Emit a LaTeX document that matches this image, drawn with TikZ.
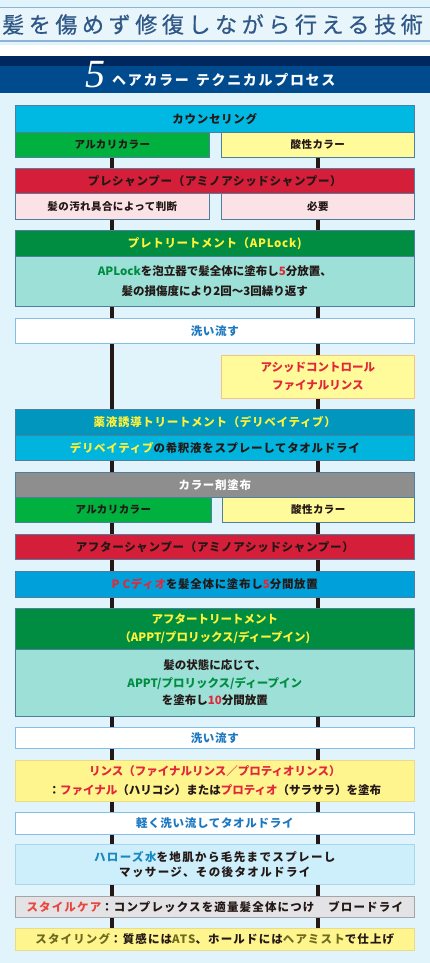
\documentclass[tikz,border=0pt]{standalone}
\usepackage{fontspec}
\setmainfont{Noto Sans CJK JP}
\newfontfamily\titlefont[LetterSpace=21, FakeBold=0.6]{Noto Sans CJK JP}
\newfontfamily\numfont{Liberation Serif}
\usetikzlibrary{backgrounds}

\definecolor{bgblue}{HTML}{E1F4FC}
\definecolor{bandblue}{HTML}{E8F5FB}
\definecolor{titletext}{HTML}{2F5886}
\definecolor{titleline}{HTML}{8DB3D6}
\definecolor{navy}{HTML}{00275E}
\definecolor{barblue}{HTML}{004A8E}
\definecolor{boxline}{HTML}{4F7F9F}
\definecolor{cyanbox}{HTML}{00B9E3}
\definecolor{alkgreen}{HTML}{00B140}
\definecolor{acidyellow}{HTML}{FFFA9A}
\definecolor{shampred}{HTML}{D51F3A}
\definecolor{pinkbox}{HTML}{FBE2E7}
\definecolor{darkgreen}{HTML}{008D41}
\definecolor{mint}{HTML}{9CE0D8}
\definecolor{washline}{HTML}{85BEE6}
\definecolor{washtext}{HTML}{1C78C0}
\definecolor{rinseline}{HTML}{F5C67A}
\definecolor{redtext}{HTML}{E1283A}
\definecolor{derivehead}{HTML}{0096BD}
\definecolor{derivebody}{HTML}{00B4DE}
\definecolor{headyellow}{HTML}{FFF23A}
\definecolor{graybox}{HTML}{8E8E8E}
\definecolor{pcblue}{HTML}{00A0DB}
\definecolor{greentext}{HTML}{008D41}
\definecolor{rinseyellow}{HTML}{FFF58F}
\definecolor{rinseedge}{HTML}{EADB8A}
\definecolor{halosbox}{HTML}{CDEEFB}
\definecolor{halosline}{HTML}{A8D6EC}
\definecolor{halostext}{HTML}{1A88C0}
\definecolor{carebox}{HTML}{E3E3E6}
\definecolor{careline}{HTML}{A5A5A8}
\definecolor{carered}{HTML}{E8473E}
\definecolor{olivetext}{HTML}{6E6A1E}
\definecolor{inkblack}{HTML}{231815}

\tikzset{
  box/.style={draw=boxline, line width=0.6pt, anchor=north west, inner sep=0pt,
    align=center, minimum width=399pt, text=inkblack,
    font=\bfseries\fontsize{11.5}{18.5}\selectfont\addfontfeature{LetterSpace=6}},
  halfbox/.style={box, minimum width=194pt,
    font=\bfseries\fontsize{10.5}{14}\selectfont\addfontfeature{LetterSpace=4}},
  washbox/.style={box, draw=washline, fill=white, text=washtext},
  flowline/.style={line width=4pt, inkblack}
}

\begin{document}
\begin{tikzpicture}[x=1pt, y=-1pt]
  \useasboundingbox (0,0) rectangle (430,963);
  \begin{pgfonlayer}{background}
    \fill[bgblue] (0,0) rectangle (430,963);
  \end{pgfonlayer}
  % title band
  \fill[bandblue] (0,8) rectangle (430,41);
  \draw[titleline, line width=1pt] (0,8) -- (430,8);
  \draw[titleline, line width=2pt] (0,41) -- (430,41);
  \node[text=titletext, anchor=west, inner sep=0pt, font=\titlefont\fontsize{22}{22}\selectfont] (title) at (2,24.5)
    {髪を傷めず修復しながら行える技術};
  \fill[white] (0,45) rectangle (430,56);
  \fill[navy] (0,56) rectangle (430,66);
  \fill[barblue] (0,66) rectangle (430,93);
  \node[text=white, font=\numfont\itshape\fontsize{40}{40}\selectfont, anchor=base] (num) at (95,88) {5};
  \node[text=white, anchor=west, inner sep=0pt, font=\bfseries\fontsize{14}{14}\selectfont\addfontfeature{LetterSpace=12}]
    (headline) at (112,79.5) {ヘアカラー\hspace{7pt}テクニカルプロセス};

  % flow
  \node[box, fill=cyanbox, minimum height=27pt] (couns) at (15,105) {カウンセリング};
  \node[halfbox, fill=alkgreen, minimum height=25pt] (alk1) at (15,132) {アルカリカラー};
  \node[halfbox, fill=acidyellow, minimum width=193pt, minimum height=25pt] (acid1) at (221,132) {酸性カラー};
  \node[box, fill=shampred, minimum height=25pt] (preshamp) at (15,168) {プレシャンプー（アミノアシッドシャンプー）};
  \node[halfbox, fill=pinkbox, minimum height=26pt] (dirt) at (15,193) {髪の汚れ具合によって判断};
  \node[halfbox, fill=pinkbox, minimum width=193pt, minimum height=26pt] (need) at (221,193) {必要};
  \node[box, fill=darkgreen, text=headyellow, minimum height=26pt] (pretreat) at (15,230) {プレトリートメント（APLock)};
  \node[box, fill=mint, minimum height=50pt, font=\bfseries\fontsize{11.5}{19.5}\selectfont] (pretreatbody) at (15,256)
    {\textcolor{greentext}{APLock}を泡立器で髪全体に塗布し\textcolor{redtext}{5}分放置、\\髪の損傷度により2回～3回繰り返す};
  \node[washbox, minimum height=25pt] (wash1) at (15,318) {洗い流す};
  \node[halfbox, draw=rinseline, fill=acidyellow, text=redtext, minimum width=193pt, minimum height=43pt,
    font=\bfseries\fontsize{11.5}{18}\selectfont] (acidrinse) at (221,355) {アシッドコントロール\\ファイナルリンス};
  \node[box, fill=derivehead, text=headyellow, minimum height=26pt] (derive) at (15,409) {薬液誘導トリートメント（デリベイティブ）};
  \node[box, fill=derivebody, minimum height=25pt] (derivebody) at (15,435)
    {\textcolor{headyellow}{デリベイティブ}の希釈液をスプレーしてタオルドライ};
  \node[box, fill=graybox, text=white, minimum height=25pt] (colorapp) at (15,472) {カラー剤塗布};
  \node[halfbox, fill=alkgreen, minimum width=196pt, minimum height=25pt] (alk2) at (15,497) {アルカリカラー};
  \node[halfbox, fill=acidyellow, minimum width=192pt, minimum height=25pt] (acid2) at (222,497) {酸性カラー};
  \node[box, fill=shampred, minimum height=25pt] (aftershamp) at (15,534) {アフターシャンプー（アミノアシッドシャンプー）};
  \node[box, fill=pcblue, minimum height=26pt] (pcdio) at (15,571)
    {\textcolor{redtext}{P\hspace{3pt}Cディオ}を髪全体に塗布し\textcolor{redtext}{5}分間放置};
  \node[box, fill=darkgreen, text=headyellow, minimum height=41pt, font=\bfseries\fontsize{11.5}{18}\selectfont]
    (aftertreat) at (15,608) {アフタートリートメント\\（APPT/プロリックス/ディープイン)};
  \node[box, fill=mint, minimum height=67pt, font=\bfseries\fontsize{11.5}{17.5}\selectfont] (aftertreatbody) at (15,649)
    {髪の状態に応じて、\\\textcolor{greentext}{APPT/プロリックス/ディープイン}\\を塗布し\textcolor{redtext}{10}分間放置};
  \node[washbox, minimum height=21pt] (wash2) at (15,727) {洗い流す};
  \node[box, draw=rinseedge, fill=rinseyellow, minimum height=41pt, font=\bfseries\fontsize{11.5}{19.3}\selectfont] (rinse) at (15,760)
    {\textcolor{redtext}{リンス（ファイナルリンス／プロティオリンス）}\\：\textcolor{redtext}{ファイナル}（ハリコシ）または\textcolor{redtext}{プロティオ}（サラサラ）を塗布};
  \node[washbox, minimum height=22pt] (lightwash) at (15,812) {軽く洗い流してタオルドライ};
  \node[box, draw=halosline, fill=halosbox, minimum height=40pt,
    font=\bfseries\fontsize{11.5}{15.5}\selectfont\addfontfeature{LetterSpace=12}] (halos) at (15,844)
    {\textcolor{halostext}{ハローズ水}を地肌から毛先までスプレーし\\マッサージ、その後タオルドライ};
  \node[box, draw=careline, fill=carebox, minimum height=21pt,
    font=\bfseries\fontsize{11.5}{14}\selectfont\addfontfeature{LetterSpace=10}] (stylecare) at (15,896)
    {\textcolor{carered}{スタイルケア}：コンプレックスを適量髪全体につけ　ブロードライ};
  \node[box, draw=rinseedge, fill=rinseyellow, minimum height=22pt,
    font=\bfseries\fontsize{11.5}{14}\selectfont\addfontfeature{LetterSpace=10}] (styling) at (15,928)
    {\textcolor{olivetext}{スタイリング}：質感には\textcolor{olivetext}{ATS}、ホールドには\textcolor{olivetext}{ヘアミスト}で仕上げ};

  \begin{pgfonlayer}{background}
    \draw[flowline] (alk1.south) -- (alk1.south |- styling.north);
    \draw[flowline] (acid1.south) -- (acid1.south |- styling.north);
  \end{pgfonlayer}
\end{tikzpicture}
\end{document}
